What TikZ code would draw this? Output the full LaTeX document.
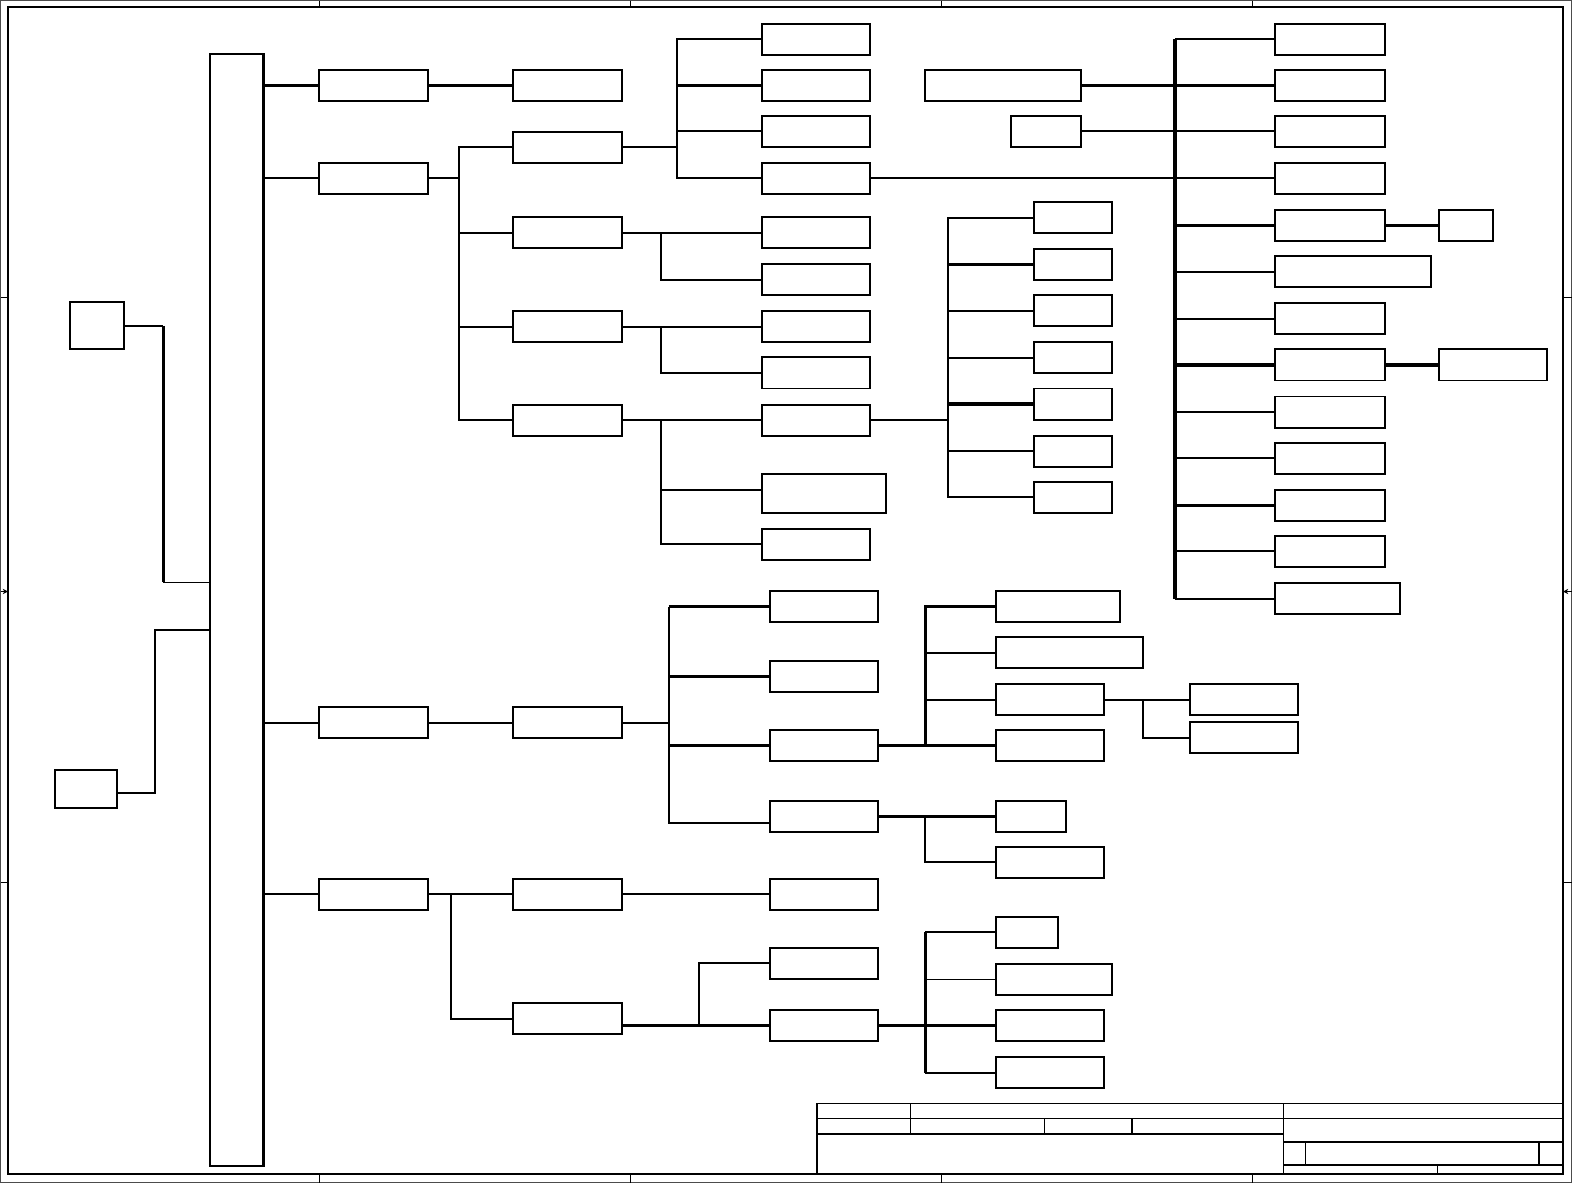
\documentclass[tikz,border=0pt]{standalone}
\usepackage{tikz}
\usetikzlibrary{arrows.meta, calc, positioning}

\tikzset{
  blk/.style={draw, line width=1.1pt, inner sep=0pt, outer sep=0pt, anchor=west,
    minimum width=108*0.02cm, minimum height=31*0.02cm},
  wd/.style={minimum width=#1*0.02cm},
  ht/.style={minimum height=#1*0.02cm},
  wire/.style={line width=1.1pt},
  heavy/.style={line width=1.8pt},
  frame/.style={line width=0.7pt},
}

\begin{document}
\begin{tikzpicture}[x=0.02cm, y=-0.02cm]
    \useasboundingbox (0,0) rectangle (1568,1180);

    % Sheet frame
    \draw[frame, gray!60!black] (0.5,0.5) rectangle (1567.5,1179.5);
    \draw[frame] (8,7) rectangle (1559,1171);
    \foreach \x in {319,629,939,1249} {
        \draw[frame] (\x,0.5) -- (\x,7);
        \draw[frame] (\x,1171) -- (\x,1179.5);
    }
    \draw[frame] (0.5,297) -- (8,297);
    \draw[frame] (0.5,880) -- (8,880);
    \draw[frame] (1559,297) -- (1567.5,297);
    \draw[frame] (1559,880) -- (1567.5,880);
    \draw[frame, -{Stealth[length=3pt, width=3pt]}] (0.5,590) -- (8,590);
    \draw[frame, -{Stealth[length=3pt, width=3pt]}] (1567.5,590) -- (1559,590);

    % Title block
    \draw[frame] (815,1101) rectangle (1559,1171);
    \draw[frame] (815,1116) -- (1559,1116);
    \draw[frame] (815,1131) -- (1280,1131);
    \draw[frame] (908,1101) -- (908,1131);
    \draw[frame] (1042,1116) -- (1042,1131);
    \draw[frame] (1129,1116) -- (1129,1131);
    \draw[frame] (1280,1101) -- (1280,1171);
    \draw[frame] (1280,1139) -- (1559,1139);
    \draw[frame] (1280,1162) -- (1559,1162);
    \draw[frame] (1302,1139) -- (1302,1162);
    \draw[frame] (1535,1139) -- (1535,1162);
    \draw[frame] (1434,1162) -- (1434,1171);

    % Main column and its two inputs
    \node[blk, anchor=north west, wd=54, ht=1109] (main) at (209,54) {};
    \draw[heavy] (main.north east) -- (main.south east);
    \node[blk, wd=54, ht=47] (inA) at (70,325) {};
    \node[blk, wd=62, ht=38] (inB) at (55,787) {};
    \coordinate (jA) at (163,581);
    \coordinate (jB) at (155,628);
    \coordinate (outB) at ($(inB.east)+(0,4)$);
    \draw[wire] (inA.east) -- (inA.east -| jA);
    \draw[heavy] (inA.east -| jA) -- (jA);
    \draw[wire] (jA) -- (jA -| main.west);
    \draw[wire] (outB) -| (jB) -- (jB -| main.west);

    % Bus positions
    \coordinate (busR2) at (458,0);
    \coordinate (busS21) at (675,0);
    \coordinate (busS2x) at (659,0);
    \coordinate (busT9) at (946,0);
    \coordinate (busV) at (1172,0);
    \coordinate (busS3) at (667,0);
    \coordinate (busM) at (923,0);
    \coordinate (busN3) at (1140,0);
    \coordinate (busR4) at (450,0);
    \coordinate (busS42) at (697,0);

    % Level 1
    \node[blk, wd=109] (r1) at (318,85) {};
    \node[blk, wd=109] (r2) at (318,178) {};
    \node[blk, wd=109] (r3) at (318,721) {};
    \node[blk, wd=109] (r4) at (318,892) {};
    \draw[heavy] (r1.west -| main.east) -- (r1.west);
    \draw[wire] (r2.west -| main.east) -- (r2.west);
    \draw[wire] (r3.west -| main.east) -- (r3.west);
    \draw[wire] (r4.west -| main.east) -- (r4.west);

    % Level 2
    \node[blk] (s1) at (512,85) {};
    \node[blk] (s21) at (512,147) {};
    \node[blk] (s22) at (512,232) {};
    \node[blk] (s23) at (512,326) {};
    \node[blk] (s24) at (512,419) {};
    \node[blk] (s3) at (512,721) {};
    \node[blk] (s41) at (512,892) {};
    \node[blk] (s42) at (512,1016) {};
    \draw[heavy] (r1) -- (s1);
    \draw[wire] (r2.east) -- (r2.east -| busR2);
    \draw[wire] (s21.west) -| (busR2 |- s24.west) -- (s24.west);
    \draw[wire] (busR2 |- s22.west) -- (s22.west);
    \draw[wire] (busR2 |- s23.west) -- (s23.west);
    \draw[wire] (r3) -- (s3);
    \draw[wire] (r4) -- (s41);
    \draw[wire] (busR4 |- s41.west) |- (s42.west);

    % Level 3, upper part
    \node[blk] (t1) at (760,39) {};
    \node[blk] (t2) at (760,85) {};
    \node[blk] (t3) at (760,131) {};
    \node[blk] (t4) at (760,178) {};
    \node[blk] (t5) at (760,232) {};
    \node[blk] (t6) at (760,279) {};
    \node[blk] (t7) at (760,326) {};
    \node[blk] (t8) at (760,372) {};
    \node[blk] (t9) at (760,419) {};
    \node[blk, wd=124, ht=39] (t10) at (760,492) {};
    \node[blk] (t11) at (760,543) {};
    \draw[wire] (s21.east) -- (s21.east -| busS21);
    \draw[wire] (t1.west) -| (busS21 |- t4.west) -- (t4.west);
    \draw[heavy] (busS21 |- t2.west) -- (t2.west);
    \draw[wire] (busS21 |- t3.west) -- (t3.west);
    \draw[wire] (s22) -- (t5);
    \draw[wire] (busS2x |- t5.west) |- (t6.west);
    \draw[wire] (s23) -- (t7);
    \draw[wire] (busS2x |- t7.west) |- (t8.west);
    \draw[wire] (s24) -- (t9);
    \draw[wire] (busS2x |- t9.west) |- (t11.west);
    \draw[wire] (busS2x |- 0,489) -- (t10.west |- 0,489);

    % Level 4 behind t9
    \node[blk, wd=78] (u1) at (1031,217) {};
    \node[blk, wd=78] (u2) at (1031,264) {};
    \node[blk, wd=78] (u3) at (1031,310) {};
    \node[blk, wd=78] (u4) at (1031,357) {};
    \node[blk, wd=78] (u5) at (1031,403) {};
    \node[blk, wd=78] (u6) at (1031,450) {};
    \node[blk, wd=78] (u7) at (1031,496) {};
    \draw[wire] (t9.east) -- (t9.east -| busT9);
    \draw[wire] (u1.west) -| (busT9 |- u7.west) -- (u7.west);
    \draw[heavy] (busT9 |- u2.west) -- (u2.west);
    \draw[wire] (busT9 |- u3.west) -- (u3.west);
    \draw[wire] (busT9 |- u4.west) -- (u4.west);
    \draw[heavy] (busT9 |- u5.west) -- (u5.west);
    \draw[wire] (busT9 |- u6.west) -- (u6.west);

    % Right column on the thick bus
    \node[blk, wd=155] (f1) at (923,85) {};
    \node[blk, wd=70] (f2) at (1008,131) {};
    \node[blk, wd=109] (v1) at (1272,39) {};
    \node[blk, wd=109] (v2) at (1272,85) {};
    \node[blk, wd=109] (v3) at (1272,131) {};
    \node[blk, wd=109] (v4) at (1272,178) {};
    \node[blk, wd=109] (v5) at (1272,225) {};
    \node[blk, wd=155] (v6) at (1272,271) {};
    \node[blk, wd=109] (v7) at (1272,318) {};
    \node[blk, wd=109] (v8) at (1272,364) {};
    \node[blk, wd=109] (v9) at (1272,411) {};
    \node[blk, wd=109] (v10) at (1272,457) {};
    \node[blk, wd=109] (v11) at (1272,504) {};
    \node[blk, wd=109] (v12) at (1272,550) {};
    \node[blk, wd=124] (v13) at (1272,597) {};
    \node[blk, wd=54] (w1) at (1435,225) {};
    \node[blk, wd=108] (w2) at (1435,364) {};
    \draw[heavy] (busV |- v1.west) -- (busV |- v13.west);
    \draw[wire] (busV |- v1.west) -- (v1.west);
    \draw[heavy] (f1) -- (v2);
    \draw[wire] (f2) -- (v3);
    \draw[wire] (t4) -- (v4);
    \draw[heavy] (busV |- v5.west) -- (v5.west);
    \draw[wire] (busV |- v6.west) -- (v6.west);
    \draw[wire] (busV |- v7.west) -- (v7.west);
    \draw[heavy] (busV |- v8.west) -- (v8.west);
    \draw[wire] (busV |- v9.west) -- (v9.west);
    \draw[wire] (busV |- v10.west) -- (v10.west);
    \draw[heavy] (busV |- v11.west) -- (v11.west);
    \draw[wire] (busV |- v12.west) -- (v12.west);
    \draw[wire] (busV |- v13.west) -- (v13.west);
    \draw[heavy] (v5) -- (w1);
    \draw[heavy] (v8) -- (w2);

    % Lower part behind s3
    \node[blk] (m1) at (768,605) {};
    \node[blk] (m2) at (768,675) {};
    \node[blk] (m3) at (768,744) {};
    \node[blk] (m4) at (768,814) {};
    \coordinate (m4in) at ($(m4.west)+(0,7)$);
    \draw[wire] (s3.east) -- (s3.east -| busS3);
    \draw[wire] (busS3 |- m1.west) -- (busS3 |- m4in) -- (m4in);
    \draw[heavy] (busS3 |- m1.west) -- (m1.west);
    \draw[heavy] (busS3 |- m2.west) -- (m2.west);
    \draw[heavy] (busS3 |- m3.west) -- (m3.west);

    \node[blk, wd=124] (n1) at (993,605) {};
    \node[blk, wd=147] (n2) at (993,651) {};
    \node[blk] (n3) at (993,698) {};
    \node[blk] (n4) at (993,744) {};
    \node[blk, wd=70] (n5) at (993,814) {};
    \node[blk] (n6) at (993,860) {};
    \draw[heavy] (m3) -- (n4);
    \draw[heavy] (n1.west) -| (busM |- n4.west);
    \draw[wire] (busM |- n2.west) -- (n2.west);
    \draw[wire] (busM |- n3.west) -- (n3.west);
    \draw[heavy] (m4) -- (n5);
    \draw[wire] (busM |- n5.west) |- (n6.west);

    \node[blk] (o1) at (1187,698) {};
    \node[blk] (o2) at (1187,736) {};
    \draw[wire] (n3) -- (o1);
    \draw[wire] (busN3 |- o1.west) |- (o2.west);

    % Bottom part behind r4
    \node[blk] (m5) at (768,892) {};
    \node[blk] (m6) at (768,961) {};
    \node[blk] (m7) at (768,1023) {};
    \draw[wire] (s41) -- (m5);
    \draw[heavy] (s42.east |- m7.west) -- (m7.west);
    \draw[wire] (busS42 |- m7.west) |- (m6.west);

    \node[blk, wd=62] (n7) at (993,930) {};
    \node[blk, wd=116] (n8) at (993,977) {};
    \node[blk] (n9) at (993,1023) {};
    \node[blk] (n10) at (993,1070) {};
    \draw[heavy] (m7) -- (n9);
    \draw[heavy] (busM |- n7.west) -- (busM |- n10.west);
    \draw[wire] (busM |- n7.west) -- (n7.west);
    \draw[wire] (busM |- n8.west) -- (n8.west);
    \draw[wire] (busM |- n10.west) -- (n10.west);

\end{tikzpicture}
\end{document}
